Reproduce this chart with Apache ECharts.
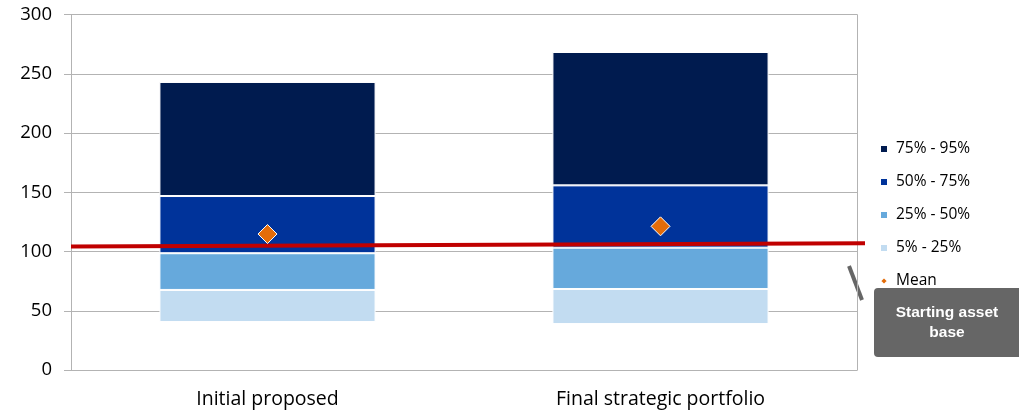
<!DOCTYPE html>
<html>
<head>
<meta charset="utf-8">
<script src="https://cdn.jsdelivr.net/npm/echarts@6/dist/echarts.min.js"></script>
<style>
  html,body{margin:0;padding:0;background:#fff;}
  #b{width:1019px;height:412px;}
</style>
</head>
<body>
<div id="b"></div>
<script>
var categories = ['Initial proposed', 'Final strategic portfolio'];
var p5  = [40.5, 38.8];
var p25 = [67.6, 68.4];
var p50 = [98.6, 103.3];
var p75 = [146.9, 155.9];
var p95 = [243.2, 268.5];
var means = [114.8, 121.3];
var startingBase = [104.2, 107.0];
var yTicks = [0, 50, 100, 150, 200, 250, 300];

function diff(a, b) {
  return a.map(function (v, i) { return +(b[i] - v).toFixed(1); });
}

var myChart = echarts.init(document.getElementById('b'));
var gridColor = '#B3B3B3';
var font = '"Open Sans", sans-serif';

function band(name, data, color) {
  return {
    name: name,
    type: 'bar',
    stack: 'pct',
    barWidth: '55%',
    data: data,
    itemStyle: { color: color, borderColor: '#ffffff', borderWidth: 1 },
    z: 2
  };
}

option = {
  animation: false,
  grid: [
    { left: 71, right: 162, top: 14.7, bottom: 42 },
    // red line runs a little past the plot's right edge
    { left: 71, right: 154, top: 14.7, bottom: 42 }
  ],
  xAxis: [
    {
      type: 'category',
      data: categories,
      axisLine: { lineStyle: { color: gridColor } },
      axisTick: { length: 8, lineStyle: { color: gridColor } },
      axisLabel: { color: '#000', fontSize: 19.5, fontFamily: font, margin: 19 }
    },
    { type: 'value', gridIndex: 1, min: 0, max: 1, show: false }
  ],
  yAxis: [
    {
      type: 'value',
      min: yTicks[0],
      max: yTicks[yTicks.length - 1],
      interval: 50,
      axisLine: { show: true, lineStyle: { color: gridColor } },
      axisTick: { show: true, length: 7, lineStyle: { color: gridColor } },
      splitLine: { lineStyle: { color: gridColor } },
      axisLabel: { color: '#000', fontSize: 18.5, fontFamily: font, margin: 19 }
    },
    {
      type: 'value', position: 'right', min: 0, max: 300,
      axisLine: { show: true, lineStyle: { color: gridColor } },
      axisTick: { show: false }, axisLabel: { show: false }, splitLine: { show: false }
    },
    { type: 'value', gridIndex: 1, min: 0, max: 300, show: false }
  ],
  legend: {
    orient: 'vertical',
    left: 874,
    top: 136,
    itemWidth: 8,
    itemHeight: 8,
    itemGap: 17,
    textStyle: { fontSize: 15.5, fontFamily: font, color: '#000', lineHeight: 16, padding: [0, 0, 0, 3] },
    data: [
      { name: '75% - 95%', icon: 'rect' },
      { name: '50% - 75%', icon: 'rect' },
      { name: '25% - 50%', icon: 'rect' },
      { name: '5% - 25%', icon: 'rect' },
      { name: 'Mean', icon: 'diamond' }
    ]
  },
  series: [
    {
      name: 'base', type: 'bar', stack: 'pct', barWidth: '55%', data: p5,
      itemStyle: { color: 'transparent' }, silent: true
    },
    band('5% - 25%', diff(p5, p25), '#C2DCF1'),
    band('25% - 50%', diff(p25, p50), '#66A9DC'),
    band('50% - 75%', diff(p50, p75), '#00339A'),
    band('75% - 95%', diff(p75, p95), '#001B4F'),
    {
      name: 'Starting asset base',
      type: 'line',
      xAxisIndex: 1,
      yAxisIndex: 2,
      data: [[0, startingBase[0]], [1, startingBase[1]]],
      symbol: 'none',
      lineStyle: { color: '#C00000', width: 4 },
      z: 5
    },
    {
      name: 'Mean',
      type: 'scatter',
      data: means,
      symbol: 'diamond',
      symbolSize: 19,
      itemStyle: { color: '#E36C09', opacity: 1, borderColor: '#ffffff', borderWidth: 1 },
      z: 6
    }
  ],
  graphic: [
    {
      type: 'line',
      shape: { x1: 849, y1: 266, x2: 862, y2: 300 },
      style: { stroke: '#666666', lineWidth: 4 }
    },
    {
      type: 'rect',
      shape: { x: 874, y: 288, width: 160, height: 69, r: 4 },
      style: { fill: '#666666' }
    },
    {
      type: 'text',
      x: 947, y: 323,
      style: {
        text: 'Starting asset\nbase',
        fill: '#ffffff',
        font: 'bold 15.5px "Liberation Sans", Arial, sans-serif',
        align: 'center',
        verticalAlign: 'middle',
        lineHeight: 20
      }
    }
  ]
};
option && myChart.setOption(option);
</script>
</body>
</html>
